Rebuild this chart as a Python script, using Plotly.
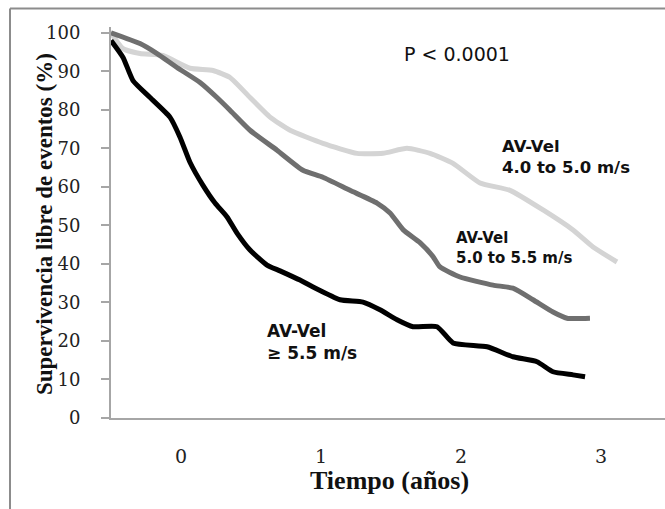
import plotly.graph_objects as go

# Time (years from start of follow-up) and event-free survival (%)
t_low = [0, 0.086, 0.207, 0.371, 0.564, 0.729, 0.85, 0.993, 1.136, 1.279, 1.514, 1.757,
         1.943, 2.114, 2.279, 2.443, 2.636, 2.85, 3.086, 3.3, 3.443, 3.614]
s_low = [100, 95.9, 94.6, 94.1, 90.8, 90.2, 88.4, 83.2, 78.1, 74.7, 71.3, 68.7,
         68.7, 70.0, 68.7, 66.1, 61.0, 59.1, 54.0, 48.8, 44.4, 40.5]

t_mid = [0, 0.207, 0.329, 0.471, 0.636, 0.757, 0.85, 0.993, 1.186, 1.371, 1.514, 1.707,
         1.9, 1.993, 2.086, 2.207, 2.3, 2.35, 2.493, 2.729, 2.871, 3.014, 3.157, 3.257, 3.421]
s_mid = [100, 97.2, 94.6, 91.0, 87.1, 83.2, 79.9, 74.7, 69.5, 64.3, 62.5, 59.1,
         55.8, 53.2, 48.9, 45.5, 41.9, 39.2, 36.6, 34.5, 33.7, 30.7, 27.5, 25.9, 25.9]

t_high = [0, 0.086, 0.157, 0.279, 0.421, 0.493, 0.564, 0.657, 0.743, 0.829, 0.9, 0.993,
          1.114, 1.207, 1.35, 1.443, 1.636, 1.8, 1.921, 2.043, 2.157, 2.329, 2.443, 2.686,
          2.871, 3.043, 3.157, 3.3, 3.386]
s_high = [98.0, 93.6, 87.6, 83.2, 78.1, 72.9, 66.4, 60.4, 55.8, 52.2, 48.0, 43.6,
          39.7, 38.2, 35.8, 34.0, 30.7, 30.1, 28.1, 25.5, 23.7, 23.7, 19.5, 18.5,
          15.9, 14.6, 12.0, 11.2, 10.7]

x_tick_vals = [0.5, 1.5, 2.5, 3.5]
x_tick_text = ["0", "1", "2", "3"]
y_tick_vals = [0, 10, 20, 30, 40, 50, 60, 70, 80, 90, 100]

fig = go.Figure()
fig.add_trace(go.Scatter(x=t_low, y=s_low, mode="lines",
                         line=dict(color="#d4d4d4", width=5, shape="spline", smoothing=0.5),
                         name="4.0 to 5.0 m/s"))
fig.add_trace(go.Scatter(x=t_mid, y=s_mid, mode="lines",
                         line=dict(color="#6f6f6f", width=5, shape="spline", smoothing=0.5),
                         name="5.0 to 5.5 m/s"))
fig.add_trace(go.Scatter(x=t_high, y=s_high, mode="lines",
                         line=dict(color="#000000", width=5, shape="spline", smoothing=0.5),
                         name="≥ 5.5 m/s"))

serif = "DejaVu Serif"
sans = "DejaVu Sans"

fig.update_layout(
    width=665, height=509,
    margin=dict(l=111, r=0, t=27, b=91),
    paper_bgcolor="white", plot_bgcolor="white",
    showlegend=False,
    xaxis=dict(range=[0, 3.957], tickvals=x_tick_vals, ticktext=x_tick_text,
               showgrid=False, zeroline=False, showline=True, linecolor="#a6a6a6",
               linewidth=2, ticks="", ticklabelstandoff=20,
               tickfont=dict(family=serif, size=19, color="#222")),
    yaxis=dict(range=[0, 101.5], tickvals=y_tick_vals,
               showgrid=False, zeroline=False, showline=True, linecolor="#a6a6a6",
               linewidth=2, ticks="outside", ticklen=8, tickcolor="#a6a6a6", tickwidth=2,
               ticklabelstandoff=17,
               tickfont=dict(family=serif, size=18, color="#222")),
    annotations=[
        dict(text="<b>Supervivencia libre de eventos (%)</b>", xref="paper", yref="paper",
             x=-0.1462, y=0.4946, textangle=-90, showarrow=False,
             font=dict(family="Liberation Serif", size=23, color="#111")),
        dict(text="<b>Tiempo (años)</b>", xref="paper", yref="paper",
             x=0.5036, y=-0.1586, yanchor="middle", showarrow=False,
             font=dict(family="Liberation Serif", size=26, color="#111")),
        dict(text="P < 0.0001", x=2.079, y=94.6, xanchor="left", yanchor="middle",
             showarrow=False, font=dict(family=sans, size=19, color="#111")),
        dict(text="<b>AV-Vel<br>4.0 to 5.0 m/s</b>", x=2.779, y=67.8, xanchor="left",
             yanchor="middle", align="left", showarrow=False,
             font=dict(family=sans, size=16.5, color="#111")),
        dict(text="<b>AV-Vel<br>5.0 to 5.5 m/s</b>", x=2.45, y=44.2, xanchor="left",
             yanchor="middle", align="left", showarrow=False,
             font=dict(family=sans, size=15, color="#111")),
        dict(text="<b>AV-Vel<br>≥ 5.5 m/s</b>", x=1.1, y=19.8, xanchor="left",
             yanchor="middle", align="left", showarrow=False,
             font=dict(family=sans, size=17, color="#111")),
    ],
    shapes=[
        dict(type="line", xref="paper", yref="paper", x0=-0.1823, x1=1.0, y0=1.0472, y1=1.0472,
             line=dict(color="#8c8c8c", width=2)),
        dict(type="line", xref="paper", yref="paper", x0=-0.1823, x1=-0.1823, y0=1.0472, y1=-0.24,
             line=dict(color="#8c8c8c", width=2)),
    ],
)

fig.write_html("out.html", config={"displayModeBar": False},
               post_script="document.body.style.margin='0';")
